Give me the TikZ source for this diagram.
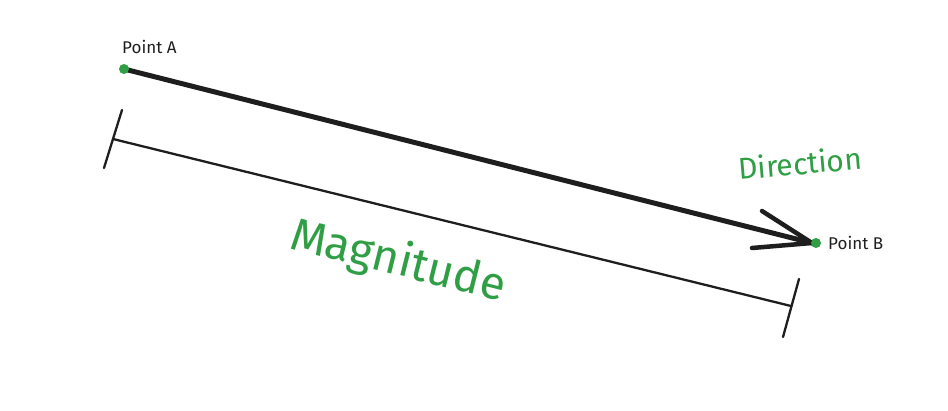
\documentclass[tikz,border=0pt]{standalone}
\usepackage{fontspec}
\setmainfont{Fira Sans}
\definecolor{ink}{HTML}{1E1E1E}
\definecolor{xgreen}{HTML}{2F9E44}
\begin{document}
\begin{tikzpicture}[x=1pt,y=-1pt,
  dot/.style={circle,fill=xgreen,inner sep=0pt,minimum size=10pt},
  lbl/.style={font=\fontsize{17}{19}\selectfont,text=ink,inner sep=0pt},
  glbl/.style={text=xgreen,inner sep=0pt},
  stroke/.style={draw=ink,line width=2.3pt,line cap=round,line join=round},
  vec/.style={draw=ink,line width=5pt,line cap=round,line join=round}]
\useasboundingbox (0,0) rectangle (948,411);
\coordinate (pA) at (124,69);
\coordinate (pB) at (812,243);
% main vector
\draw[vec] (pA) -- (pB);
\coordinate (h1) at (762,211);
\coordinate (h2) at (752,248);
\draw[vec,line width=4.5pt] (h1) -- (pB) -- (h2);
\node[dot] (A) at (pA) {};
\node[dot] (B) at (816,243) {};
\node[lbl,anchor=base west] (la) at (122,54) {Point A};
\node[lbl,anchor=west] (lb) at (828,243) {Point B};
% magnitude dimension line
\coordinate (m1) at (113,139);
\coordinate (m2) at (791,306);
\coordinate (t1a) at (122,110);
\coordinate (t1b) at (104,168);
\coordinate (t2a) at (799,279);
\coordinate (t2b) at (783,337);
\draw[stroke] (m1) -- (m2);
\draw[stroke] (t1a) -- (t1b);
\draw[stroke] (t2a) -- (t2b);
\node[glbl,font=\fontsize{46}{50}\selectfont,rotate=-14] (mag) at (398,262) {Magnitude};
\node[glbl,font=\fontsize{30}{33}\selectfont,rotate=5] (dir) at (800,163) {Direction};
\end{tikzpicture}
\end{document}
